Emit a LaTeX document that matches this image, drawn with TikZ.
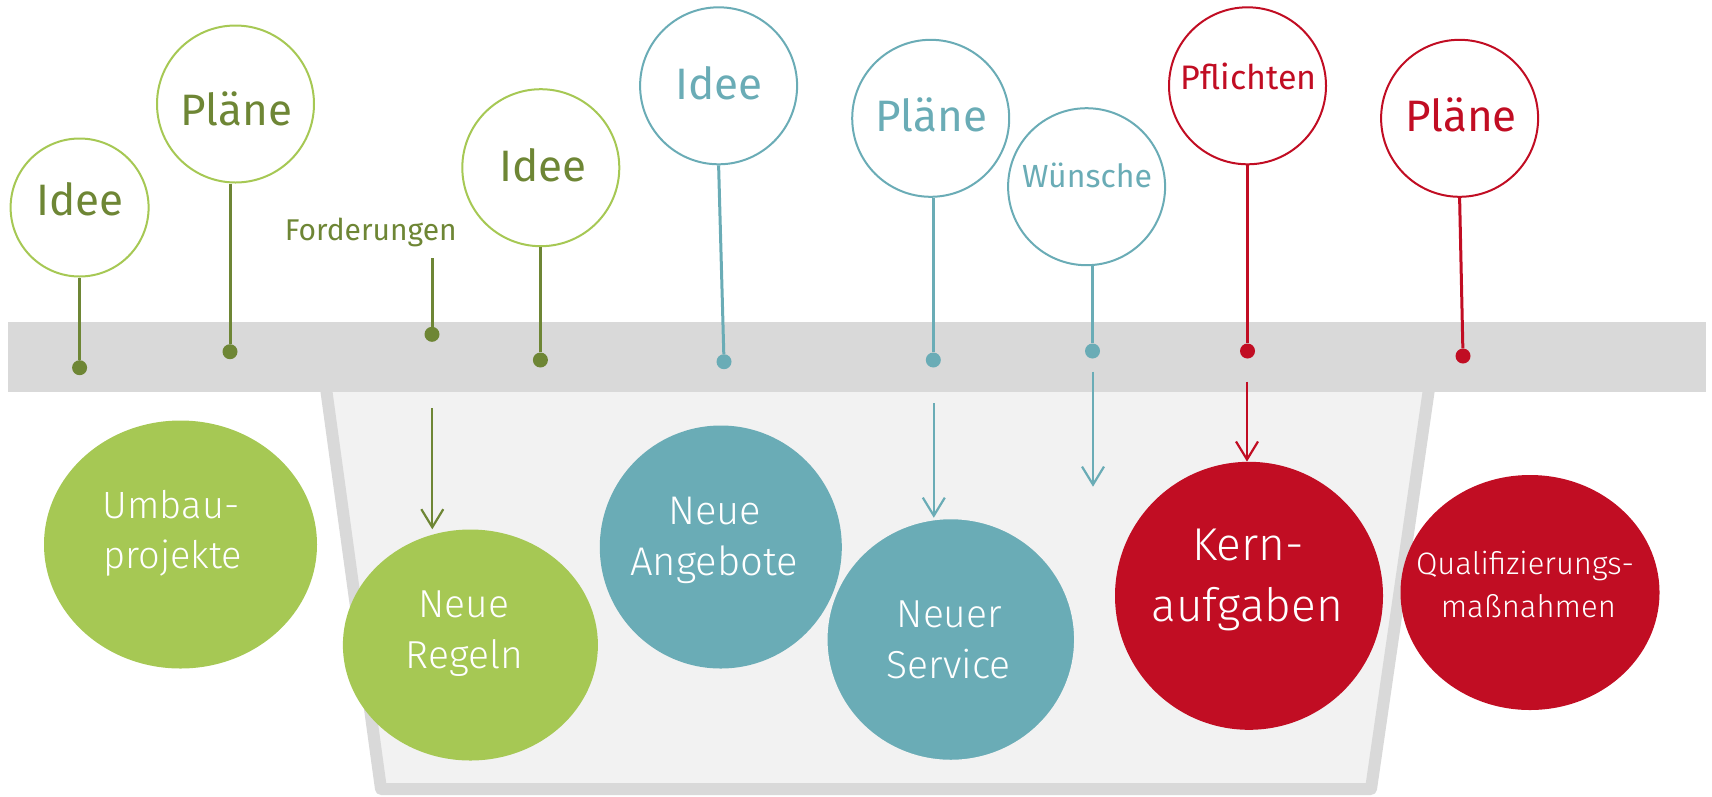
\documentclass[tikz,border=0pt]{standalone}
\usepackage{fontspec}
\setmainfont{Fira Sans}
\newfontfamily\lightfont{Fira Sans Light}
\usetikzlibrary{shapes.geometric,arrows.meta}
\definecolor{gl}{RGB}{166,200,84}
\definecolor{gd}{RGB}{110,134,53}
\definecolor{tl}{RGB}{106,172,182}
\definecolor{rd}{RGB}{193,13,35}
\definecolor{bandgray}{RGB}{217,217,217}
\definecolor{binfill}{RGB}{242,242,242}
\begin{document}
\begin{tikzpicture}[x=1pt,y=-1pt,
  bubble/.style={circle, draw, line width=2pt, fill=white, minimum size=157pt, inner sep=0pt},
  dotnode/.style={circle, minimum size=15pt, inner sep=0pt},
  stem/.style={line width=3pt},
  arr/.style={line width=2.2pt, -{Straight Barb[length=18pt,width=22pt]}},
  blob/.style={ellipse, inner sep=0pt},
  lbl/.style={anchor=base, inner sep=0pt},
  wlbl/.style={anchor=base, inner sep=0pt, text=white, font=\lightfont\fontsize{#1}{#1}\selectfont}]
\useasboundingbox (0,0) rectangle (1712,796);
% bin
\path[fill=binfill, draw=bandgray, line width=12pt, line join=round]
  (323.5,370) -- (381,789) -- (1371,789) -- (1431.7,370);
% band
\fill[bandgray] (8,322) rectangle (1706,392);
% ellipses
\node[blob, fill=gl, minimum width=273pt, minimum height=248pt] (umbau) at (180.5,544.5) {};
\node[blob, fill=gl, minimum width=255pt, minimum height=231pt] (regeln) at (470.4,645) {};
\node[blob, fill=tl, minimum width=242pt, minimum height=243pt] (angebote) at (720.8,547) {};
\node[blob, fill=tl, draw=binfill, line width=1.5pt, minimum width=248pt, minimum height=242pt] (service) at (950.8,639.5) {};
\node[blob, fill=rd, minimum width=268pt, minimum height=268pt] (kern) at (1249,595.8) {};
\node[blob, fill=rd, minimum width=259pt, minimum height=235pt] (quali) at (1530,592.5) {};
% ellipse texts
\node[wlbl=38] (umbauA) at (171,518) {Umbau-};
\node[wlbl=38] (umbauB) at (172.8,568) {projekte};
\node[wlbl=39] (regelnA) at (463.6,617) {Neue};
\node[wlbl=39] (regelnB) at (464.3,668) {Regeln};
\node[wlbl=40] (angeboteA) at (714.8,524) {Neue};
\node[wlbl=40] (angeboteB) at (714,575) {Angebote};
\node[wlbl=39] (serviceA) at (949.4,627.3) {Neuer};
\node[wlbl=39] (serviceB) at (948.8,678.3) {Service};
\node[wlbl=46] (kernA) at (1248,560.7) {Kern-};
\node[wlbl=46] (kernB) at (1247.3,621.7) {aufgaben};
\node[wlbl=31] (qualiA) at (1525,574.3) {Qualifizierungs-};
\node[wlbl=31] (qualiB) at (1528.3,617.3) {maßnahmen};
% bubbles
\node[bubble, draw=gl, minimum size=138pt] (g1) at (79.6,207.5) {};
\node[bubble, draw=gl] (g2) at (235.5,104) {};
\node[bubble, draw=gl] (g3) at (540.8,167.7) {};
\node[bubble, draw=tl] (t1) at (718.6,85.8) {};
\node[bubble, draw=tl] (t2) at (930.7,118.3) {};
\node[bubble, draw=tl] (t3) at (1086.6,186.7) {};
\node[bubble, draw=rd] (r1) at (1247.5,85.8) {};
\node[bubble, draw=rd] (r2) at (1459.6,118.3) {};
% bubble texts
\node[lbl, text=gd, font=\fontsize{44}{44}\selectfont] (g1t) at (80.3,215) {Idee};
\node[lbl, text=gd, font=\fontsize{44}{44}\selectfont] (g2t) at (236.3,125.7) {Pläne};
\node[lbl, text=gd, font=\fontsize{44}{44}\selectfont] (g3t) at (542.7,181.7) {Idee};
\node[lbl, text=tl, font=\fontsize{44}{44}\selectfont] (t1t) at (719.2,99.3) {Idee};
\node[lbl, text=tl, font=\fontsize{44}{44}\selectfont] (t2t) at (931.4,131.7) {Pläne};
\node[lbl, text=tl, font=\fontsize{32}{32}\selectfont] (t3t) at (1087,187.3) {Wünsche};
\node[lbl, text=rd, font=\fontsize{34}{34}\selectfont] (r1t) at (1248.6,89.3) {Pflichten};
\node[lbl, text=rd, font=\fontsize{44}{44}\selectfont] (r2t) at (1461.1,131.7) {Pläne};
\node[lbl, text=gd, font=\fontsize{30}{30}\selectfont] (ford) at (370.8,240.7) {Forderungen};
% dots
\node[dotnode, fill=gd] (g1d) at (79.6,367.7) {};
\node[dotnode, fill=gd] (g2d) at (230,351.7) {};
\node[dotnode, fill=gd] (fd) at (432,334.3) {};
\node[dotnode, fill=gd] (g3d) at (540.4,360) {};
\node[dotnode, fill=tl] (t1d) at (724,361.7) {};
\node[dotnode, fill=tl] (t2d) at (933.3,360) {};
\node[dotnode, fill=tl] (t3d) at (1092.5,351) {};
\node[dotnode, fill=rd] (r1d) at (1247.5,351) {};
\node[dotnode, fill=rd] (r2d) at (1463,356) {};
% stems
\coordinate (fs) at (432,258.3);
\draw[stem, gd] (g1d |- g1.south) -- (g1d);
\draw[stem, gd] (g2d |- g2.south) -- (g2d);
\draw[stem, gd] (fs) -- (fd);
\draw[stem, gd] (g3d |- g3.south) -- (g3d);
\draw[stem, tl] (t1.south) -- (t1d);
\draw[stem, tl] (t2d |- t2.south) -- (t2d);
\draw[stem, tl] (t3d |- t3.south) -- (t3d);
\draw[stem, rd] (r1d |- r1.south) -- (r1d);
\draw[stem, rd] (r2.south) -- (r2d);
% arrows
\coordinate (fa) at (432.3,408.3);
\coordinate (t2a) at (933.8,403.3);
\coordinate (t3a) at (1093,371.7);
\coordinate (t3e) at (1093,486.7);
\coordinate (r1a) at (1247,381.7);
\draw[arr, gd] (fa) -- (fa |- regeln.north);
\draw[arr, tl] (t2a) -- (t2a |- service.north);
\draw[arr, tl] (t3a) -- (t3e);
\draw[arr, rd] (r1a) -- (r1a |- kern.north);
\end{tikzpicture}
\end{document}
